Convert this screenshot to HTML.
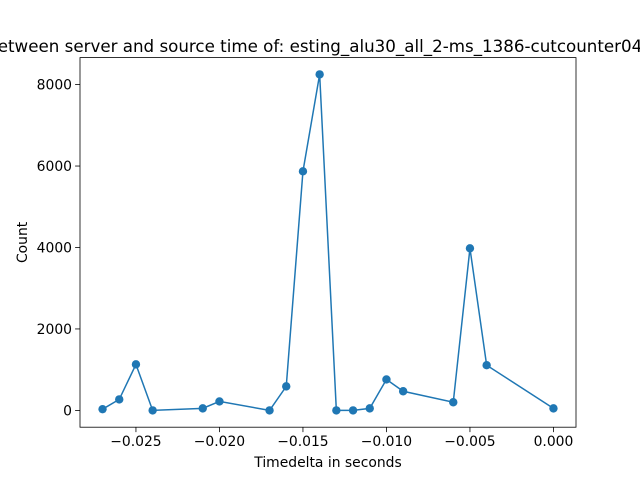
<!DOCTYPE html>
<html><head><meta charset="utf-8"><style>body{margin:0;background:#fff}svg{display:block}text{font-family:"DejaVu Sans","Liberation Sans",sans-serif;fill:#000}</style></head>
<body>
<svg id="c" width="640" height="480"></svg>
<script>
const xValues=[-0.027,-0.026,-0.025,-0.024,-0.021,-0.020,-0.017,-0.016,-0.015,-0.014,-0.013,-0.012,-0.011,-0.010,-0.009,-0.006,-0.005,-0.004,0.000];
const counts=[30,270,1130,0,50,220,0,590,5870,8250,0,0,50,760,470,200,3980,1110,50];
const xTicks=[-0.025,-0.020,-0.015,-0.010,-0.005,0.000];
const xTickLabels=["\u22120.025","\u22120.020","\u22120.015","\u22120.010","\u22120.005","0.000"];
const yTicks=[0,2000,4000,6000,8000];
const yTickLabels=["0","2000","4000","6000","8000"];
const L=80,R=576,T=57.6,B=427.2;
const xmin=Math.min(...xValues),xmax=Math.max(...xValues),xm=(xmax-xmin)*0.05;
const ymin=Math.min(...counts),ymax=Math.max(...counts),ym=(ymax-ymin)*0.05;
const sx=v=>L+(v-(xmin-xm))/((xmax+xm)-(xmin-xm))*(R-L);
const sy=v=>B-(v-(ymin-ym))/((ymax+ym)-(ymin-ym))*(B-T);
const svg=document.getElementById('c');const NS='http://www.w3.org/2000/svg';
function mk(t,a,p){const e=document.createElementNS(NS,t);for(const k in a)e.setAttribute(k,a[k]);(p||svg).appendChild(e);return e;}
let t=mk('text',{x:320,y:52,'text-anchor':'middle','font-size':'16.7'});t.textContent="etween server and source time of: esting_alu30_all_2-ms_1386-cutcounter04";


xTicks.forEach((v,i)=>{const x=sx(v);const l=mk('line',{x1:x,x2:x,y1:B,y2:B+4.9,stroke:'#000','stroke-width':0.8});


const s=mk('text',{x:x,y:B+19,'text-anchor':'middle','font-size':'13.9'});s.textContent=xTickLabels[i];

});
yTicks.forEach((v,i)=>{const y=sy(v);const l=mk('line',{x1:L-4.9,x2:L,y1:y,y2:y,stroke:'#000','stroke-width':0.8});


const s=mk('text',{x:L-8,y:y+5,'text-anchor':'end','font-size':'13.9'});s.textContent=yTickLabels[i];

});
let xl=mk('text',{x:(L+R)/2,y:467,'text-anchor':'middle','font-size':'13.9'});xl.textContent="Timedelta in seconds";


let yl=mk('text',{x:0,y:0,'text-anchor':'middle','font-size':'13.9',transform:`translate(27,${(T+B)/2}) rotate(-90)`});yl.textContent="Count";


const pl=mk('polyline',{points:xValues.map((v,i)=>sx(v)+','+sy(counts[i])).join(' '),fill:'none',stroke:'#1f77b4','stroke-width':1.5});


xValues.forEach((v,i)=>{const c=mk('circle',{cx:sx(v),cy:sy(counts[i]),r:4.2,fill:'#1f77b4'});

});
const fr=mk('rect',{x:L,y:T,width:R-L,height:B-T,fill:'none',stroke:'#000','stroke-width':0.8});


</script>
</body></html>
